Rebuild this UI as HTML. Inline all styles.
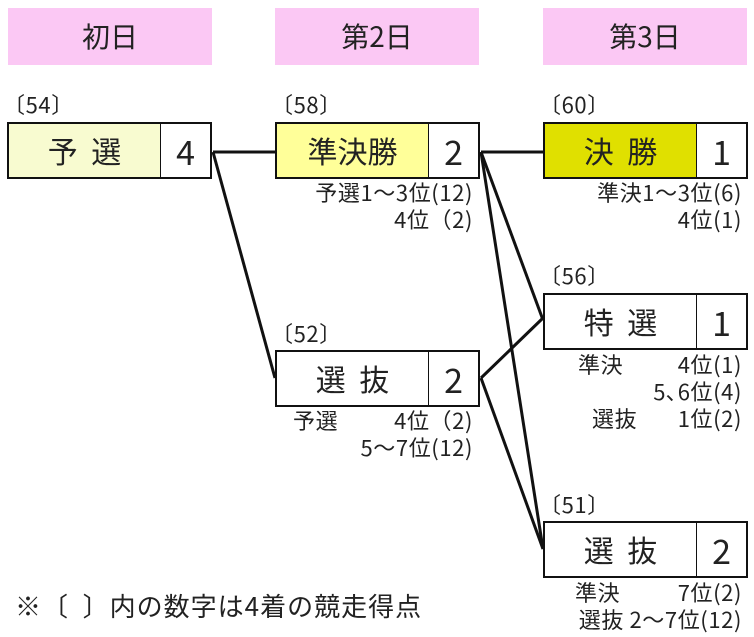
<!DOCTYPE html>
<html><head><meta charset="utf-8"><style>
body{margin:0;width:754px;height:637px;background:#fff;position:relative;overflow:hidden;font-family:"Noto Sans CJK JP","Liberation Sans",sans-serif;color:#222}
.h{position:absolute;top:8px;width:204px;height:57px;background:#fbc8f4;font-size:28px;line-height:57px;text-align:center}
.b{position:absolute;width:201px;height:53px;border:2px solid #111;display:flex;font-size:30px;line-height:53px}
.b .n{flex:1;text-align:center}
.b .d{width:49px;border-left:1px solid #111;text-align:center;background:#fff;font-size:34px}
.t{position:absolute;font-size:22px;line-height:27px;white-space:nowrap;letter-spacing:0.6px}
.r{text-align:right}
svg{position:absolute;left:0;top:0}
</style></head><body>
<div class="h" style="left:8px">初日</div>
<div class="h" style="left:275px">第2日</div>
<div class="h" style="left:543px">第3日</div>
<svg width="754" height="637"><g stroke="#111" stroke-width="3" fill="none">
<line x1="213" y1="152" x2="275" y2="152"/>
<line x1="213" y1="152" x2="275" y2="378"/>
<line x1="481" y1="152" x2="543" y2="152"/>
<line x1="481" y1="152" x2="543" y2="320"/>
<line x1="481" y1="152" x2="543" y2="549"/>
<line x1="481" y1="378" x2="543" y2="318"/>
<line x1="481" y1="378" x2="543" y2="549"/>
</g></svg>
<div class="t" style="left:3px;top:91px">〔54〕</div>
<div class="b" style="left:7px;top:122px;background:#f8fbd0"><div class="n">予&nbsp;&nbsp;選</div><div class="d">4</div></div>
<div class="t" style="left:271px;top:91px">〔58〕</div>
<div class="b" style="left:275px;top:122px;background:#ffff99"><div class="n">準決勝</div><div class="d">2</div></div>
<div class="t r" style="right:281px;top:179px">予選1～3位(12)<br>4位（2)</div>
<div class="t" style="left:539px;top:91px">〔60〕</div>
<div class="b" style="left:543px;top:122px;background:#e0e000"><div class="n">決&nbsp;&nbsp;勝</div><div class="d">1</div></div>
<div class="t r" style="right:12px;top:179px">準決1～3位(6)<br>4位(1)</div>
<div class="t" style="left:271px;top:320px">〔52〕</div>
<div class="b" style="left:275px;top:350px;background:#fff"><div class="n">選&nbsp;&nbsp;抜</div><div class="d">2</div></div>
<div class="t" style="left:293px;top:407px">予選</div>
<div class="t r" style="right:281px;top:407px">4位（2)<br>5～7位(12)</div>
<div class="t" style="left:539px;top:262px">〔56〕</div>
<div class="b" style="left:543px;top:293px;background:#fff"><div class="n">特&nbsp;&nbsp;選</div><div class="d">1</div></div>
<div class="t" style="left:578px;top:351px">準決</div>
<div class="t" style="left:592px;top:405px">選抜</div>
<div class="t r" style="right:12px;top:351px">4位(1)<br>5､6位(4)<br>1位(2)</div>
<div class="t" style="left:539px;top:491px">〔51〕</div>
<div class="b" style="left:543px;top:521px;background:#fff"><div class="n">選&nbsp;&nbsp;抜</div><div class="d">2</div></div>
<div class="t" style="left:575px;top:579px">準決</div>
<div class="t r" style="right:12px;top:579px">7位(2)<br>選抜 2～7位(12)</div>
<div class="t" style="left:15px;top:589px;font-size:26px;line-height:34px;letter-spacing:1px">※〔&nbsp;&nbsp;〕内の数字は4着の競走得点</div>
</body></html>
